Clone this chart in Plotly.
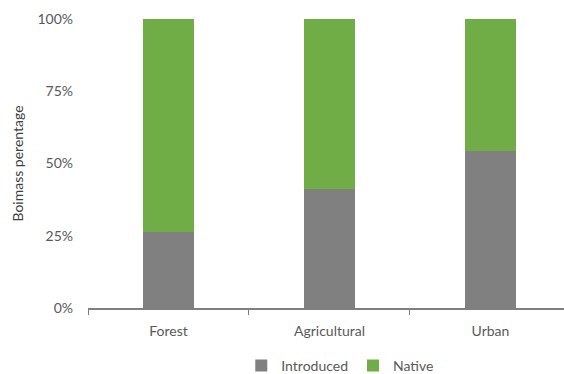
import plotly.graph_objects as go

categories = ["Forest", "Agricultural", "Urban"]
introduced = [0.263, 0.412, 0.543]
native = [1 - v for v in introduced]

GRAY = "#808080"
GREEN = "#70AD47"
TEXT = "#595959"

fig = go.Figure()
fig.add_trace(go.Bar(x=categories, y=introduced, name="Introduced",
                     marker=dict(color=GRAY, line=dict(width=0)), width=0.32))
fig.add_trace(go.Bar(x=categories, y=native, name="Native",
                     marker=dict(color=GREEN, line=dict(width=0)), width=0.32))

fig.update_layout(
    barmode="stack",
    width=564, height=374,
    margin=dict(l=88, r=0, t=19, b=66, autoexpand=False),
    paper_bgcolor="white", plot_bgcolor="white",
    font=dict(family="Lato, Open Sans, sans-serif", size=14, color=TEXT),
    showlegend=True,
    legend=dict(orientation="h", x=0.53, xanchor="center", y=-0.2, yanchor="middle",
                font=dict(size=14, color=TEXT), itemwidth=30, traceorder="normal"),
)
fig.update_xaxes(
    range=[-0.5, 2.457], showgrid=False, showline=True, linecolor="#7f7f7f", linewidth=1.5,
    ticks="outside", tickson="boundaries", ticklen=5, tickcolor="#7f7f7f",
    tickfont=dict(size=14, color=TEXT), ticklabelstandoff=9, fixedrange=True,
    automargin=False,
)
fig.update_yaxes(
    range=[0, 1], tickvals=[0, 0.25, 0.5, 0.75, 1.0], tickformat=".0%",
    showgrid=False, zeroline=False, showline=False, ticks="",
    tickfont=dict(size=14, color=TEXT), ticklabelstandoff=14, automargin=False,
    title=dict(text="Boimass perentage", font=dict(size=14, color="#404040"), standoff=10),
)

fig.write_html("out.html")
